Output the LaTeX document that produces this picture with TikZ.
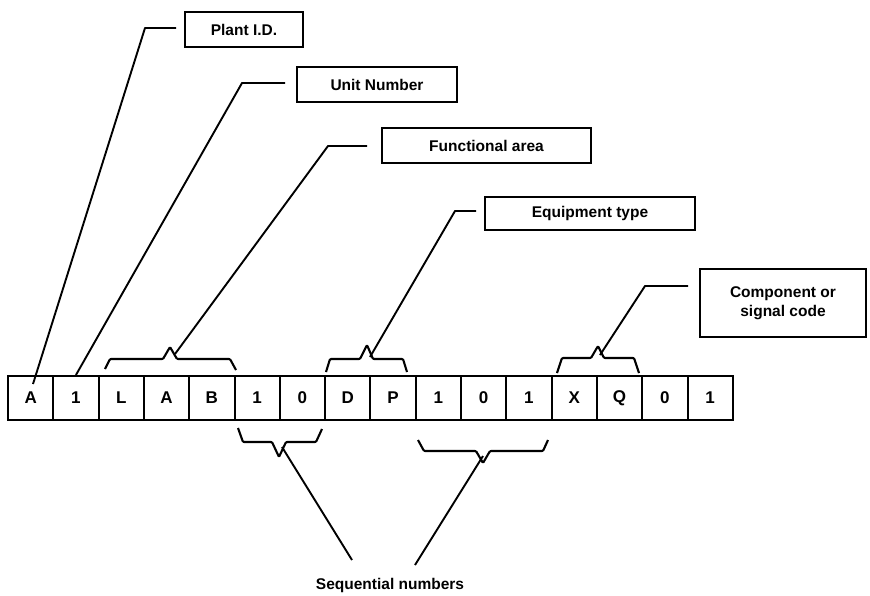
\documentclass[tikz,border=0pt]{standalone}
\usepackage{fontspec}
\setmainfont{Liberation Sans}
\begin{document}
\begin{tikzpicture}[x=1pt,y=-1pt,
  cell/.style={draw,line width=2pt,minimum width=45.3pt,minimum height=44pt,inner sep=0pt,font=\fontsize{17}{18}\selectfont\bfseries},
  lbl/.style={draw,line width=1.7pt,inner sep=0pt,font=\fontsize{15.5}{18.5}\selectfont\bfseries,align=center},
  ln/.style={line width=1.9pt,line join=round},
  brace/.style={line width=2.1pt,line join=round,rounded corners=1pt}]
\useasboundingbox (0,0) rectangle (870,595);
\foreach \t [count=\i] in {A,1,L,A,B,1,0,D,P,1,0,1,X,Q,0,1}{
  \node[cell] (c\i) at ({8+45.3*(\i-0.5)},398) {\t};
}
\node[lbl,minimum width=118pt,minimum height=35pt] (plant) at (244,29.5) {Plant I.D.};
\node[lbl,minimum width=160pt,minimum height=35pt] (unit) at (377,84.5) {Unit Number};
\node[lbl,minimum width=209pt,minimum height=35pt] (func) at (486.5,145.5) {Functional area};
\node[lbl,minimum width=210pt,minimum height=33pt] (equip) at (590,213.5) {Equipment type};
\node[lbl,minimum width=166pt,minimum height=68pt] (comp) at (783,303) {Component or\\signal code};
\node[font=\fontsize{15.5}{18}\selectfont\bfseries] (seq) at (390,585) {Sequential numbers};
% braces
\coordinate (b1) at (170,347);
\coordinate (b2) at (367,345);
\coordinate (b3) at (598,346);
\coordinate (l1) at (279,457);
\coordinate (l2) at (483,463);
\draw[brace] (105,369) -- (110,359) -- (163,359) -- (b1) -- (177,359) -- (230,359) -- (236,370);
\draw[brace] (326,372) -- (330,359) -- (360,359) -- (b2) -- (373,359) -- (403,359) -- (407,372);
\draw[brace] (557,373) -- (562,358) -- (591,358) -- (b3) -- (604,358) -- (634,358) -- (639,373);
\draw[brace] (238,428) -- (243,442) -- (272,442) -- (l1) -- (286,442) -- (316,442) -- (322,429);
\draw[brace] (418,440) -- (424,451) -- (476,451) -- (l2) -- (490,451) -- (543,451) -- (548,440);
% leaders
\draw[ln] ([xshift=-8pt]plant.west |- 0,28) -- (145,28) -- (33,384);
\draw[ln] ([xshift=-11pt]unit.west |- 0,83) -- (242,83) -- (c2.north);
\draw[ln] ([xshift=-14pt]func.west |- 0,146) -- (328,146) -- ([shift={(5pt,-7pt)}]b1);
\draw[ln] ([xshift=-8pt]equip.west |- 0,211) -- (455,211) -- ([shift={(3pt,-12pt)}]b2);
\draw[ln] ([xshift=-11pt]comp.west |- 0,286) -- (645,286) -- ([shift={(2pt,-9pt)}]b3);
\draw[ln] ([shift={(3pt,10pt)}]l1) -- (352,560);
\draw[ln] ([shift={(0pt,7pt)}]l2) -- (415,565);
\end{tikzpicture}
\end{document}
